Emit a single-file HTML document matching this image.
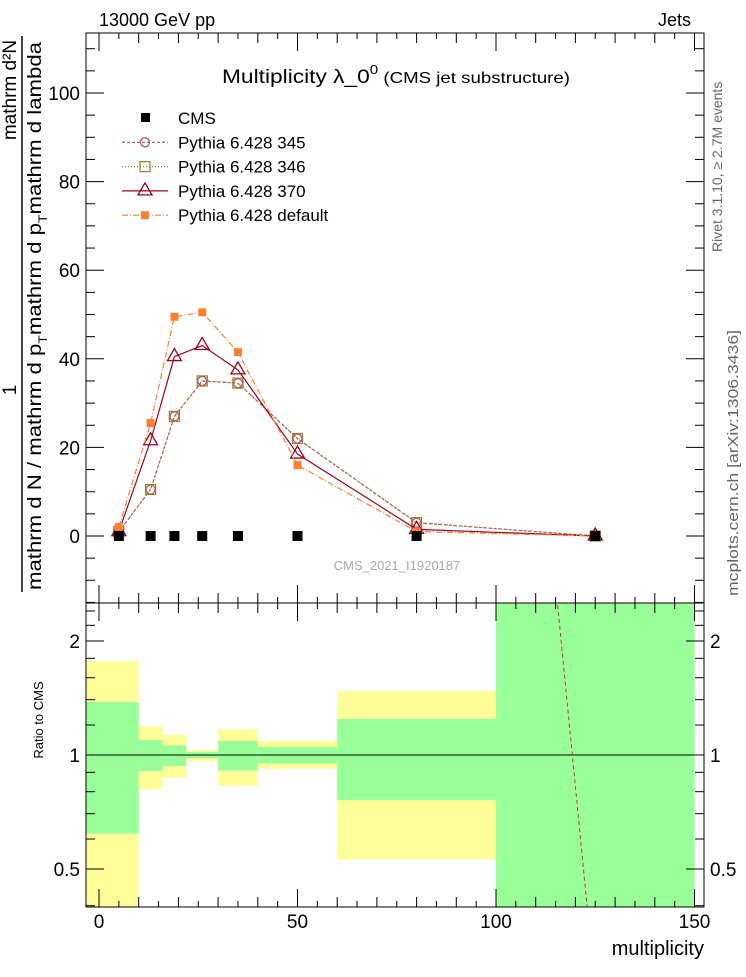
<!DOCTYPE html>
<html><head><meta charset="utf-8"><style>
body{margin:0;background:#fff}
svg text{font-family:"Liberation Sans",sans-serif}
</style></head><body>
<svg id="c" width="746" height="972" viewBox="0 0 746 972" xmlns="http://www.w3.org/2000/svg">
<defs>
<clipPath id="cm"><rect x="86" y="33" width="618" height="570"/></clipPath>
<clipPath id="cr"><rect x="86" y="603" width="618" height="304"/></clipPath>
</defs>
<g id="bands" clip-path="url(#cr)"></g>
<g id="main" clip-path="url(#cm)"></g>
<g id="ratio" clip-path="url(#cr)"></g>
<g id="axes"></g>
<text x="99" y="26" font-size="18">13000 GeV pp</text>
<text x="691" y="26" font-size="18" text-anchor="end">Jets</text>
<text x="222" y="83" font-size="19.5" textLength="348" lengthAdjust="spacingAndGlyphs">Multiplicity  λ_0<tspan dy="-9" font-size="13">0</tspan><tspan dy="9" font-size="16"> (CMS jet substructure)</tspan></text>
<text x="397" y="570" font-size="13" fill="#aaa" text-anchor="middle">CMS_2021_I1920187</text>
<text transform="translate(722,252) rotate(-90)" font-size="14" fill="#666">Rivet 3.1.10, ≥ 2.7M events</text>
<text transform="translate(738,596) rotate(-90)" font-size="15" fill="#666" textLength="266" lengthAdjust="spacingAndGlyphs">mcplots.cern.ch [arXiv:1306.3436]</text>
<g>
<text transform="translate(16,390) rotate(-90)" font-size="19" text-anchor="middle">1</text>
<text transform="translate(16,90) rotate(-90)" font-size="19" text-anchor="middle">mathrm d²N</text>
<line x1="22" y1="36" x2="22" y2="592" stroke="#000" stroke-width="1.5"/>
<text transform="translate(41,590) rotate(-90)" font-size="19" textLength="548" lengthAdjust="spacingAndGlyphs">mathrm d N / mathrm d p<tspan dy="6" font-size="12">T</tspan><tspan dy="-6">mathrm d p</tspan><tspan dy="6" font-size="12">T</tspan><tspan dy="-6">mathrm d lambda</tspan></text>
</g>
<text transform="translate(43,720) rotate(-90)" font-size="13" text-anchor="middle">Ratio to CMS</text>
<text x="704" y="955" font-size="20" text-anchor="end">multiplicity</text>
<g id="legend"></g>
</svg>
<script>
const xs=[5,13,19,26,35,50,80,125];
const cms=[0,0,0,0,0,0,0,0];
const p345=[1,10.5,27,35,34.5,22,3,0];
const p346=[1,10.5,27,35,34.5,22,3,0];
const p370=[1,21.5,40.5,43,37.5,18.5,1.5,0];
const pdef=[2,25.5,49.5,50.5,41.5,16,1,0];
const binLo=[-5,10,16,22,30,40,60,100];
const binHi=[10,16,22,30,40,60,100,150];
const yelLo=[0.3,0.81,0.87,0.964,0.83,0.92,0.53,0.2];
const yelHi=[1.77,1.19,1.13,1.03,1.17,1.09,1.475,5];
const grnLo=[0.62,0.907,0.935,0.982,0.91,0.95,0.76,0.2];
const grnHi=[1.38,1.095,1.06,1.018,1.09,1.05,1.245,5];
const ratioX=[80,125];
const ratioV=[16000,0.24];
const yTicks=[0,20,40,60,80,100];
const xTicks=[0,50,100,150];
const rTicks=[0.5,1,2];

const NS="http://www.w3.org/2000/svg";
const X=v=>99+v*3.97;
const Y=v=>536-v*4.43;
const R=v=>755-Math.log2(v)*114;
function el(t,a,p){const e=document.createElementNS(NS,t);for(const k in a)e.setAttribute(k,a[k]);document.getElementById(p).appendChild(e);return e;}

binLo.forEach((lo,i)=>{
 const a=el('rect',{x:X(lo),y:R(yelHi[i]),width:X(binHi[i])-X(lo),height:R(yelLo[i])-R(yelHi[i]),fill:'#ffff99'},'bands');
 
 
 const g=el('rect',{x:X(lo),y:R(grnHi[i]),width:X(binHi[i])-X(lo),height:R(grnLo[i])-R(grnHi[i]),fill:'#99ff99'},'bands');
 
 
});
el('line',{x1:86,x2:704,y1:R(1),y2:R(1),stroke:'#000'},'ratio');
const rl=el('polyline',{points:ratioX.map((x,i)=>X(x)+','+R(ratioV[i])).join(' '),fill:'none',stroke:'#cc3333','stroke-dasharray':'4,3'},'ratio');



const series=[
 {d:p345,c:'#b0506a',dash:'3,2',m:'circle',n:'pythia-345'},
 {d:p346,c:'#a08030',dash:'1,2',m:'square',n:'pythia-346'},
 {d:p370,c:'#a00020',dash:'',m:'tri',n:'pythia-370'},
 {d:pdef,c:'#ff7f30',dash:'6,2,1,2',m:'fsq',n:'pythia-default'}];
function marker(m,cx,cy,c,p){
 if(m==='circle')return el('circle',{cx,cy,r:4.5,fill:'none',stroke:c,'stroke-width':1.3},p);
 if(m==='square')return el('rect',{x:cx-5,y:cy-5,width:10,height:10,fill:'none',stroke:c,'stroke-width':1.3},p);
 if(m==='tri')return el('polygon',{points:`${cx},${cy-8} ${cx-7},${cy+4} ${cx+7},${cy+4}`,fill:'none',stroke:c,'stroke-width':1.3},p);
 if(m==='fsq')return el('rect',{x:cx-4,y:cy-4,width:8,height:8,fill:c},p);
 return el('rect',{x:cx-5,y:cy-5,width:10,height:10,fill:c},p);
}
series.forEach(s=>{
 const l=el('polyline',{points:xs.map((x,i)=>X(x)+','+Y(s.d[i])).join(' '),fill:'none',stroke:s.c,'stroke-width':1.2,'stroke-dasharray':s.dash},'main');
 
 
 xs.forEach((x,i)=>{const m=marker(s.m,X(x),Y(s.d[i]),s.c,'main');
  
  });
});
xs.forEach((x,i)=>{const m=marker('cms',X(x),Y(cms[i]),'#000','main');
 
 });

const leg=[{m:'cms',c:'#000',t:'CMS',dash:null}].concat(series.map((s,i)=>({m:s.m,c:s.c,dash:s.dash,t:['Pythia 6.428 345','Pythia 6.428 346','Pythia 6.428 370','Pythia 6.428 default'][i]})));
leg.forEach((e,i)=>{
 const y=118+i*24.3;
 if(e.dash!==null){const l=el('line',{x1:122,x2:168,y1:y,y2:y,stroke:e.c,'stroke-width':1.2,'stroke-dasharray':e.dash},'legend');
  
  }
 const m=marker(e.m==='cms'?'cms':e.m,145,y,e.c,'legend');
 if(e.m==='cms'){m.setAttribute('width',9);m.setAttribute('height',9);m.setAttribute('x',141);m.setAttribute('y',y-5);}
 
 
 const t=el('text',{x:178,y:y+6,'font-size':17},'legend');t.textContent=e.t;
 
 
});

el('rect',{x:86,y:33,width:618,height:874,fill:'none',stroke:'#000'},'axes');
el('line',{x1:86,x2:704,y1:603,y2:603,stroke:'#000'},'axes');
for(let v=-15;v<=110;v+=5){const y=Y(v);if(y<33||y>603)continue;const L=v%20===0?18:9;
 el('line',{x1:86,x2:86+L,y1:y,y2:y,stroke:'#000'},'axes');el('line',{x1:704,x2:704-L,y1:y,y2:y,stroke:'#000'},'axes');}
yTicks.forEach(v=>{const t=el('text',{x:80,y:Y(v)+7,'font-size':19,'text-anchor':'end'},'axes');t.textContent=v;
 });
[0.4,0.5,0.6,0.7,0.8,0.9,1,1.2,1.4,1.6,1.8,2,2.2,2.4].forEach(v=>{const y=R(v);const L=rTicks.includes(v)?18:9;
 el('line',{x1:86,x2:86+L,y1:y,y2:y,stroke:'#000'},'axes');el('line',{x1:704,x2:704-L,y1:y,y2:y,stroke:'#000'},'axes');});
rTicks.forEach(v=>{const t=el('text',{x:80,y:R(v)+7,'font-size':19,'text-anchor':'end'},'axes');t.textContent=v;
 
 const t2=el('text',{x:710,y:R(v)+7,'font-size':19},'axes');t2.textContent=v;
 });
for(let v=0;v<=150;v+=5){const x=X(v);const L=v%50===0?18:(v%10===0?10:6);
 el('line',{x1:x,x2:x,y1:33,y2:33+L,stroke:'#000'},'axes');el('line',{x1:x,x2:x,y1:603,y2:603-L,stroke:'#000'},'axes');
 el('line',{x1:x,x2:x,y1:603,y2:603+L,stroke:'#000'},'axes');el('line',{x1:x,x2:x,y1:907,y2:907-L,stroke:'#000'},'axes');}
xTicks.forEach(v=>{const t=el('text',{x:X(v),y:928,'font-size':19,'text-anchor':'middle'},'axes');t.textContent=v;
 });
</script>
</body></html>
